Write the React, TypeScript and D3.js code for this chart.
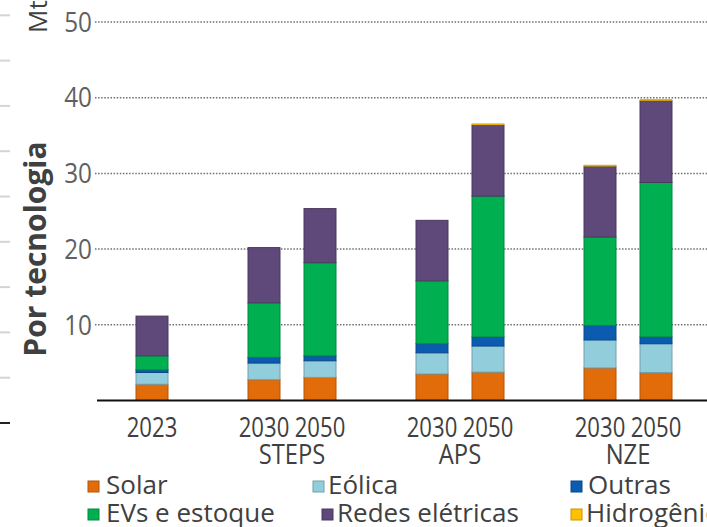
import React from "react";
import * as d3 from "d3";

const categories = ["2023", "", "2030", "2050", " ", "2030 ", "2050 ", "  ", "2030  ", "2050  "];
const barLabels = ["2023", "", "2030", "2050", "", "2030", "2050", "", "2030", "2050"];
const scenarios = ["STEPS", "APS", "NZE"];
const scenarioSlots = [[2, 3], [5, 6], [8, 9]];
const seriesNames = ["Solar", "Eólica", "Outras", "EVs e estoque", "Redes elétricas", "Hidrogênio"];
const seriesColors = ["#E36C0A", "#92CDDC", "#0B5CB0", "#00B050", "#5F497A", "#FFC000"];

// values per bar (null = empty slot)
const solar = [2.15, null, 2.75, 3.05, null, 3.5, 3.75, null, 4.3, 3.7];
const eolica = [1.55, null, 2.2, 2.2, null, 2.8, 3.45, null, 3.7, 3.8];
const outras = [0.35, null, 0.75, 0.65, null, 1.2, 1.2, null, 1.9, 0.9];
const evs = [1.85, null, 7.2, 12.3, null, 8.3, 18.6, null, 11.7, 20.4];
const redes = [5.25, null, 7.3, 7.15, null, 8.0, 9.4, null, 9.35, 10.8];
const hidrogenio = [0, null, 0, 0, null, 0, 0.15, null, 0.15, 0.2];

const yTicks = [10, 20, 30, 40, 50];

const W = 707;
const H = 527;

export default function App() {
  const x = d3.scalePoint<string>().domain(categories).range([152, 656]);
  const y = d3.scaleLinear().domain([0, 50]).range([400.5, 22]);
  const barW = 32;

  const seriesVals = [solar, eolica, outras, evs, redes, hidrogenio];
  const rows = categories.map((c, i) => {
    const o: any = { cat: c };
    seriesNames.forEach((s, j) => (o[s] = seriesVals[j][i] ?? 0));
    o.empty = solar[i] === null;
    return o;
  });
  const stack = d3.stack<any>().keys(seriesNames)(rows);

  // faint ticks of the neighbouring (cropped) axis on the left edge
  const sideScale = d3.scaleLinear().domain([0, 9]).range([423, 15.3]);
  const sideTicks = d3.range(0, 10);

  const font = "'Open Sans', sans-serif";

  const legendPos = [
    { x: 88, y: 481, tx: 106, ty: 494 },
    { x: 313, y: 481, tx: 328, ty: 494 },
    { x: 571, y: 481, tx: 588, ty: 494 },
    { x: 88, y: 509, tx: 106, ty: 522 },
    { x: 322, y: 509, tx: 337, ty: 522 },
    { x: 571, y: 509, tx: 586, ty: 522 },
  ];

  return (
    <svg width={W} height={H} style={{ position: "absolute", left: 0, top: 0, background: "#fff" }}>
      {sideTicks.map((t) => (
        <line key={t} x1={0} x2={10} y1={sideScale(t)} y2={sideScale(t)}
          stroke={t === 0 ? "#222" : "#d4d4d4"} strokeWidth={2} />
      ))}
      {/* gridlines */}
      {yTicks.map((t) => (
        <g key={t}>
          <line x1={95} x2={W} y1={y(t)} y2={y(t)} stroke="#6f6f6f" strokeWidth={1.5}
            strokeDasharray="1.5,1.6" />
          <text transform={`translate(92,${y(t)}) scale(0.9,1)`} dy="0.36em" textAnchor="end"
            fontFamily={font} fontSize={27} fill="#606060">{t}</text>
        </g>
      ))}
      {/* bars */}
      {stack.map((layer, j) => (
        <g key={seriesNames[j]}>
          {layer.map((d, i) => {
            if (rows[i].empty) return null;
            const h = y(d[0]) - y(d[1]);
            if (h <= 0.01) return null;
            const c = seriesColors[j];
            return (
              <rect key={i} x={(x(categories[i]) as number) - barW / 2} y={y(d[1])}
                width={barW} height={h} fill={c}
                stroke={d3.color(c)!.darker(0.7).formatHex()} strokeWidth={j === 5 ? 0.5 : 1} />
            );
          })}
        </g>
      ))}
      {/* axis line */}
      <line x1={97} x2={W} y1={y(0)} y2={y(0)} stroke="#111" strokeWidth={2} />
      {/* category labels */}
      {barLabels.map((l, i) =>
        l ? (
          <text key={i} transform={`translate(${x(categories[i])},437) scale(0.82,1)`}
            textAnchor="middle" fontFamily={font} fontSize={27} fill="#404040">{l}</text>
        ) : null
      )}
      {scenarios.map((s, k) => {
        const [a, b] = scenarioSlots[k];
        const cx = ((x(categories[a]) as number) + (x(categories[b]) as number)) / 2;
        return (
          <text key={s} transform={`translate(${cx},464) scale(0.88,1)`} textAnchor="middle"
            fontFamily={font} fontSize={27} fill="#404040">{s}</text>
        );
      })}
      {/* axis titles */}
      <text transform="translate(47,33) rotate(-90)" fontFamily={font} fontSize={26}
        fill="#404040">Mt</text>
      <text transform="translate(46,249) rotate(-90)" textAnchor="middle" fontFamily={font}
        fontSize={30} fontWeight={700} fill="#404040">Por tecnologia</text>
      {/* legend */}
      {seriesNames.map((s, j) => {
        const p = legendPos[j];
        const c = seriesColors[j];
        return (
          <g key={s}>
            <rect x={p.x} y={p.y} width={11} height={11} fill={c}
              stroke={d3.color(c)!.darker(0.7).formatHex()} strokeWidth={1} />
            <text x={p.tx} y={p.ty} fontFamily={font} fontSize={26} fill="#404040">{s}</text>
          </g>
        );
      })}
    </svg>
  );
}
